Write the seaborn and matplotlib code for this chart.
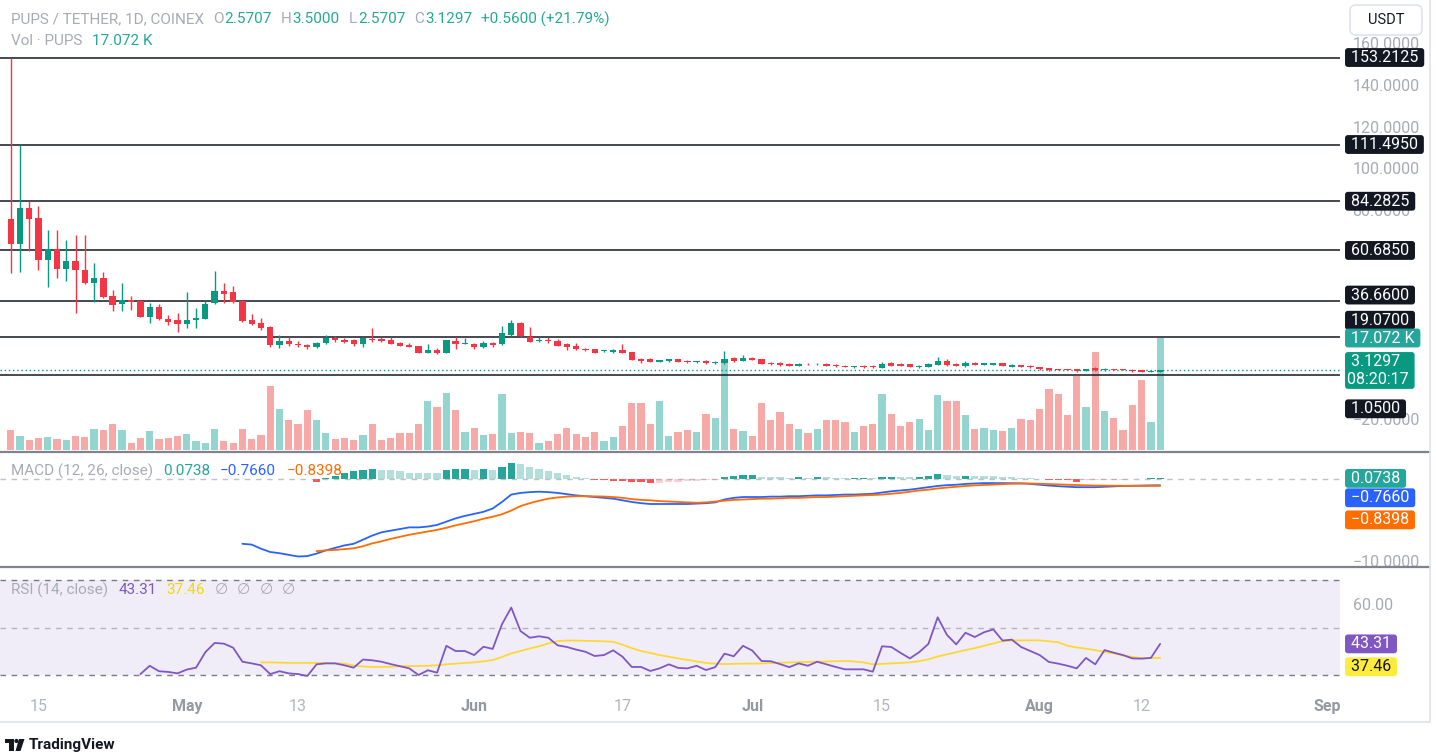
import matplotlib
matplotlib.use('Agg')
import matplotlib.pyplot as plt
import matplotlib.transforms as mtransforms
from matplotlib.patches import FancyBboxPatch, Circle, Polygon, Rectangle
from matplotlib.lines import Line2D
import seaborn as sns
import pandas as pd
import numpy as np

# ---- data (PUPS / TETHER, 1D, COINEX) ----
START_DATE = '2024-04-12'

opens = [75.8, 63.9, 80.9, 76.4, 56.1, 61.2, 51.6, 55.6, 51.2, 44.9,
         47.3, 39.0, 34.9, 36.9, 36.6, 28.9, 33.7, 27.8, 27.2, 25.6,
         27.2, 27.9, 35.3, 41.4, 40.9, 36.6, 27.3, 25.9, 24.2, 15.5,
         17.5, 15.8, 15.5, 14.3, 16.2, 18.5, 17.6, 17.7, 15.8, 18.4,
         18.2, 17.7, 16.4, 15.3, 14.8, 11.6, 12.9, 11.6, 17.3, 15.8,
         15.8, 14.5, 16.4, 15.6, 20.1, 25.8, 19.3, 17.3, 17.6, 17.2,
         15.6, 14.8, 13.6, 13.4, 12.5, 11.8, 12.9, 11.8, 8.4, 8.5,
         7.4, 7.6, 8.5, 7.7, 7.1, 7.7, 6.6, 6.6, 9.0, 7.7,
         9.3, 8.5, 6.9, 6.9, 6.3, 5.4, 6.4, 6.0, 6.3, 5.8,
         5.4, 4.6, 5.4, 5.4, 4.2, 6.5, 6.3, 6.1, 4.6, 4.8,
         5.8, 7.7, 6.4, 5.1, 6.7, 5.9, 5.9, 6.7, 4.9, 5.6,
         5.4, 4.6, 4.2, 3.8, 3.8, 3.7, 3.0, 4.4, 3.2, 3.8,
         3.8, 3.4, 3.2, 2.45, 2.5707]
highs = [153.2125, 111.495, 84.3, 82.2, 70.5, 70.5, 65.7, 68.1, 68.1, 54.5,
         50.5, 41.7, 44.9, 39.0, 36.9, 35.3, 35.0, 29.9, 30.5, 40.9,
         32.9, 36.3, 50.7, 45.2, 43.6, 36.8, 30.2, 28.4, 24.5, 20.0,
         19.0, 17.5, 16.0, 17.0, 20.3, 19.5, 18.5, 18.3, 18.8, 23.4,
         19.3, 19.3, 16.8, 16.1, 15.0, 15.8, 13.8, 17.9, 19.3, 18.5,
         16.5, 17.3, 16.9, 24.5, 27.3, 26.5, 24.0, 19.3, 19.3, 18.0,
         16.4, 16.5, 14.0, 13.6, 13.0, 13.2, 15.8, 12.0, 9.2, 9.2,
         8.3, 8.8, 8.8, 8.0, 7.9, 8.0, 7.5, 12.5, 9.6, 10.5,
         9.6, 8.7, 7.2, 7.3, 6.6, 6.5, 6.7, 6.6, 6.5, 6.0,
         5.6, 5.5, 5.7, 5.7, 7.0, 7.3, 6.6, 6.4, 5.6, 6.5,
         9.7, 8.8, 6.8, 7.7, 7.0, 6.9, 6.9, 6.9, 6.1, 5.9,
         5.6, 4.8, 4.4, 3.9, 3.9, 3.9, 4.0, 5.0, 4.2, 4.0,
         4.0, 3.6, 3.3, 2.9, 3.5]
lows = [49.7, 50.2, 60.6, 51.3, 43.3, 47.3, 46.2, 30.5, 44.5, 36.1,
        37.8, 31.8, 31.8, 32.0, 28.6, 26.0, 27.4, 24.8, 21.7, 23.7,
        23.7, 27.6, 35.0, 35.6, 35.6, 26.5, 24.8, 22.6, 14.5, 13.8,
        15.0, 14.5, 13.5, 13.8, 16.0, 17.0, 16.2, 14.9, 14.5, 16.9,
        17.0, 15.6, 14.8, 14.2, 11.4, 11.4, 10.9, 11.5, 13.6, 15.6,
        13.3, 14.0, 14.3, 15.4, 19.8, 19.3, 16.7, 16.6, 16.2, 14.9,
        13.0, 13.0, 12.6, 11.4, 12.2, 11.5, 11.4, 8.0, 6.9, 7.1,
        7.2, 7.4, 7.1, 6.9, 6.9, 6.4, 6.4, 6.4, 7.2, 7.5,
        8.0, 6.0, 5.9, 5.4, 5.1, 5.3, 5.8, 5.8, 5.3, 5.0,
        4.6, 4.5, 4.5, 4.5, 4.1, 5.2, 5.1, 4.8, 4.5, 4.7,
        5.6, 5.4, 5.1, 5.0, 5.7, 5.7, 5.8, 5.1, 4.8, 4.6,
        4.5, 3.5, 2.9, 3.2, 3.2, 2.5, 2.9, 2.8, 3.0, 3.3,
        3.2, 2.5, 2.4, 2.3, 2.5707]
closes = [63.9, 80.9, 75.8, 56.1, 61.2, 51.8, 55.6, 51.2, 44.9, 47.3,
          38.2, 34.4, 36.9, 36.0, 28.9, 33.7, 27.7, 26.5, 25.6, 27.2,
          28.3, 35.0, 41.4, 40.0, 36.1, 26.9, 25.4, 23.7, 15.5, 17.5,
          15.8, 15.5, 14.3, 16.2, 18.5, 17.6, 17.0, 15.8, 18.5, 17.9,
          17.3, 15.8, 15.0, 14.5, 11.6, 12.9, 11.6, 17.7, 15.7, 15.9,
          14.5, 16.1, 15.5, 20.9, 25.8, 19.6, 16.9, 17.6, 17.2, 15.0,
          14.5, 13.4, 12.9, 11.6, 12.7, 12.9, 11.6, 8.2, 7.7, 7.3,
          8.0, 8.5, 7.3, 7.1, 7.7, 6.6, 7.2, 8.5, 7.7, 9.3,
          8.2, 6.1, 6.1, 5.6, 5.3, 6.3, 6.0, 6.3, 5.5, 5.1,
          4.8, 5.3, 4.7, 4.7, 6.3, 5.4, 5.3, 5.0, 5.4, 6.3,
          7.7, 5.6, 5.3, 6.9, 5.9, 6.7, 6.7, 5.3, 5.9, 4.8,
          4.6, 3.7, 3.2, 3.4, 3.4, 2.7, 3.8, 3.2, 3.9, 3.5,
          3.4, 2.7, 2.6, 2.5697, 3.1297]
volumes_k = [3.1, 2.2, 1.6, 1.9, 2.0, 1.7, 1.6, 2.2, 2.0, 3.25,
             3.1, 3.9, 3.1, 1.1, 1.9, 2.9, 1.7, 1.9, 2.2, 2.5,
             1.3, 1.1, 3.25, 1.3, 1.1, 3.25, 1.7, 2.3, 9.8, 6.3,
             4.5, 4.0, 6.1, 4.5, 2.6, 1.7, 1.9, 1.6, 2.3, 4.0,
             1.6, 1.9, 2.6, 2.6, 3.9, 7.4, 6.5, 8.7, 6.1, 2.8,
             3.4, 2.3, 2.5, 8.5, 2.6, 2.8, 2.6, 1.1, 1.4, 2.5,
             3.4, 2.5, 2.0, 2.8, 1.3, 2.0, 3.6, 7.1, 7.1, 3.9,
             7.4, 2.2, 2.8, 3.1, 2.8, 5.5, 4.9, 13.4, 3.25, 2.9,
             2.2, 7.1, 4.6, 5.8, 4.0, 3.25, 2.6, 3.25, 4.6, 4.6,
             4.2, 2.8, 3.6, 3.9, 8.6, 5.5, 3.6, 4.3, 4.8, 3.1,
             8.4, 7.4, 7.4, 5.4, 3.25, 3.4, 3.1, 2.9, 3.4, 4.8,
             4.6, 6.3, 9.3, 8.5, 5.4, 11.3, 6.6, 15.0, 6.0, 4.9,
             3.1, 6.8, 10.6, 4.2, 17.072]

MACD_START = 25
macd_line = [-7.9, -8.0, -8.5, -8.9, -9.05, -9.25, -9.45, -9.4, -9.1, -8.7,
             -8.4, -8.1, -7.9, -7.4, -6.9, -6.5, -6.3, -6.1, -5.9, -5.9,
             -5.8, -5.6, -5.2, -4.8, -4.5, -4.25, -4.0, -3.6, -2.8, -1.9,
             -1.7, -1.6, -1.55, -1.6, -1.7, -1.85, -2.0, -2.1, -2.2, -2.3,
             -2.4, -2.6, -2.8, -2.95, -3.05, -3.05, -3.05, -3.05, -3.05, -3.0,
             -2.95, -2.85, -2.5, -2.3, -2.2, -2.2, -2.2, -2.15, -2.15, -2.1,
             -2.1, -2.05, -2.0, -2.0, -1.95, -1.9, -1.9, -1.85, -1.8, -1.65,
             -1.5, -1.4, -1.3, -1.15, -1.0, -0.85, -0.75, -0.7, -0.6, -0.55,
             -0.5, -0.5, -0.5, -0.52, -0.53, -0.6, -0.7, -0.8, -0.88, -0.94,
             -1.0, -1.0, -1.0, -0.95, -0.9, -0.85, -0.83, -0.8, -0.78, -0.766]
SIGNAL_START = 33
signal_line = [-8.8, -8.7, -8.65, -8.55, -8.45, -8.2, -7.85, -7.6, -7.3, -7.05,
               -6.8, -6.6, -6.4, -6.2, -5.95, -5.65, -5.4, -5.15, -4.85, -4.6,
               -4.3, -3.85, -3.3, -2.95, -2.65, -2.4, -2.25, -2.15, -2.1, -2.1,
               -2.12, -2.14, -2.2, -2.3, -2.45, -2.55, -2.6, -2.7, -2.75, -2.8,
               -2.85, -2.9, -2.85, -2.75, -2.65, -2.55, -2.5, -2.45, -2.4, -2.4,
               -2.35, -2.3, -2.3, -2.25, -2.2, -2.2, -2.15, -2.1, -2.05, -2.0,
               -1.95, -1.9, -1.8, -1.7, -1.55, -1.4, -1.3, -1.15, -1.05, -0.95,
               -0.85, -0.78, -0.73, -0.68, -0.63, -0.58, -0.55, -0.55, -0.58, -0.62,
               -0.66, -0.7, -0.74, -0.77, -0.8, -0.81, -0.82, -0.83, -0.835, -0.838,
               -0.84, -0.8398]
macd_hist = [-0.4, 0.16, 0.4, 0.7, 1.0, 1.1, 1.18, 1.1, 1.08, 1.0,
             0.77, 0.75, 0.7, 0.68, 1.1, 1.18, 1.2, 1.1, 1.18, 1.1,
             1.5, 1.9, 1.8, 1.46, 1.22, 1.0, 0.7, 0.5, 0.24, 0.16,
             -0.08, -0.16, -0.2, -0.24, -0.33, -0.4, -0.49, -0.47, -0.4, -0.33,
             -0.24, -0.2, -0.16, -0.15, 0.24, 0.33, 0.45, 0.46, 0.28, 0.27,
             0.24, 0.16, 0.24, 0.16, 0.2, 0.19, 0.16, 0.15, 0.17, 0.18,
             0.08, 0.28, 0.29, 0.24, 0.2, 0.28, 0.4, 0.57, 0.49, 0.33,
             0.4, 0.37, 0.36, 0.35, 0.24, 0.2, 0.12, 0.08, 0.04, -0.16,
             -0.17, -0.18, -0.33, -0.12, -0.11, -0.08, -0.075, -0.07, -0.04, 0.04,
             0.06, 0.0738]

RSI_START = 14
rsi_line = [30.6, 34.1, 31.8, 31.5, 30.9, 32.5, 33.3, 39.8, 43.7, 43.4,
            41.7, 35.8, 35.1, 34.3, 30.6, 31.8, 30.9, 30.6, 29.8, 34.7,
            35.1, 35.1, 34.3, 33.3, 36.7, 36.4, 35.8, 34.8, 33.9, 33.0,
            30.2, 32.2, 31.2, 42.5, 40.3, 40.3, 38.6, 42.1, 41.2, 51.6,
            58.6, 48.7, 45.9, 46.5, 45.9, 42.7, 42.0, 40.9, 40.0, 38.2,
            38.6, 40.6, 37.9, 33.6, 33.6, 31.9, 33.0, 34.7, 33.2, 33.0,
            34.1, 32.3, 33.5, 39.2, 38.1, 42.5, 40.5, 36.1, 36.0, 34.8,
            33.5, 35.1, 34.1, 35.8, 34.7, 33.6, 32.6, 32.6, 32.6, 31.6,
            42.3, 42.0, 39.5, 37.2, 39.8, 43.3, 54.5, 47.1, 43.1, 48.0,
            46.2, 48.2, 49.4, 44.7, 45.1, 42.0, 40.3, 38.6, 35.7, 35.0,
            34.1, 33.0, 37.4, 34.7, 40.7, 39.6, 38.6, 37.2, 37.1, 37.4,
            43.31]
RSI_MA_START = 27
rsi_ma = [35.5, 35.5, 35.4, 35.3, 35.3, 35.3, 35.3, 35.3, 35.1, 35.0,
          34.2, 33.8, 33.6, 33.6, 33.7, 33.9, 34.0, 34.0, 34.1, 34.3,
          34.7, 35.0, 35.3, 35.5, 36.0, 36.5, 37.8, 39.3, 40.3, 41.4,
          42.3, 43.5, 44.5, 44.7, 44.7, 44.6, 44.5, 44.4, 44.2, 43.0,
          41.5, 40.3, 39.5, 38.6, 37.9, 37.2, 36.6, 35.9, 35.3, 35.0,
          34.8, 34.9, 35.0, 35.0, 35.1, 35.2, 35.4, 35.5, 35.6, 35.7,
          35.8, 35.9, 36.0, 36.1, 35.9, 35.5, 34.7, 34.9, 35.1, 35.3,
          35.5, 36.0, 36.8, 38.0, 38.9, 39.8, 40.7, 41.5, 42.5, 43.5,
          44.4, 44.7, 44.8, 44.8, 44.8, 44.4, 44.0, 42.5, 41.8, 41.3,
          40.7, 39.9, 39.3, 38.4, 37.8, 37.3, 37.3, 37.46]

levels = [153.2125, 111.4950, 84.2825, 60.6850, 36.6600, 19.0700, 1.0500]
# only the scale ticks that stay (partly) visible next to the value boxes
price_ticks = [160, 140, 120, 100, 80, -20]
macd_ticks = [-10]
rsi_ticks = [60]
date_ticks = ['2024-04-15', '2024-05-01', '2024-05-13', '2024-06-01', '2024-06-17',
              '2024-07-01', '2024-07-15', '2024-08-01', '2024-08-12', '2024-09-01']
date_tick_labels = ['15', 'May', '13', 'Jun', '17', 'Jul', '15', 'Aug', '12', 'Sep']
countdown = '08:20:17'

# ---- style ----
sns.set_theme(style='white')
plt.rcParams['font.family'] = ['Roboto', 'DejaVu Sans']

UP, DOWN = '#089981', '#f23645'
VOL_UP, VOL_DOWN = '#95d5cf', '#f7a9a8'
GRAY = '#a8abb4'
W, H = 1436, 756
PLOT_RIGHT = 1340
LABEL_SIZE = 11.5


def pane(top, bottom):
    return [0, 1 - bottom / H, PLOT_RIGHT / W, (bottom - top) / H]


def fmt(v, d=4):
    return f'{v:.{d}f}'.replace('-', '\u2212')


n = len(closes)
df = pd.DataFrame({'date': pd.date_range(START_DATE, periods=n, freq='D'),
                   'open': opens, 'high': highs, 'low': lows, 'close': closes,
                   'volume': volumes_k})
df['i'] = np.arange(n)
df['up'] = df['close'] >= df['open']

fig = plt.figure(figsize=(W / 100, H / 100), dpi=100)
fig.patch.set_facecolor('white')

ax_vol = fig.add_axes(pane(0, 450))
ax_px = fig.add_axes(pane(0, 452))
ax_macd = fig.add_axes(pane(452, 567))
ax_rsi = fig.add_axes(pane(567, 692))

for ax in (ax_vol, ax_px, ax_macd, ax_rsi):
    ax.set_xlim(-1.15, 143.4)
    for s in ax.spines.values():
        s.set_visible(False)
    ax.set_facecolor('none')
    ax.grid(False)
    ax.set_xticks([])
    ax.tick_params(length=0)

# ---- volume (overlay in price pane) ----
ax_vol.bar(df['i'], df['volume'], width=0.78,
           color=np.where(df['up'], VOL_UP, VOL_DOWN), linewidth=0)
ax_vol.set_ylim(0, 68.6)
ax_vol.set_yticks([])

# ---- candles ----
ccol = np.where(df['up'], UP, DOWN)
ax_px.vlines(df['i'], df['low'], df['high'], colors=ccol, linewidth=1.0, zorder=3)
body_lo = df[['open', 'close']].min(axis=1)
body_h = (df['close'] - df['open']).abs().clip(lower=0.35)
ax_px.bar(df['i'], body_h, bottom=body_lo, width=0.68, color=ccol, linewidth=0, zorder=4)
for lv in levels:
    ax_px.axhline(lv, color='#131722', linewidth=1.1, zorder=2)
ax_px.axhline(closes[-1], color=UP, linewidth=1.0, linestyle=(0, (1, 2)), zorder=2)
ax_px.set_ylim(-35.97, 180.8)
ax_px.yaxis.tick_right()
ax_px.set_yticks(price_ticks)
ax_px.set_yticklabels([fmt(v) for v in price_ticks])
ax_px.tick_params(axis='y', pad=9, labelsize=LABEL_SIZE, labelcolor=GRAY)

# ---- MACD ----
hist_i = np.arange(SIGNAL_START, SIGNAL_START + len(macd_hist))
hist_cols = []
for k, v in enumerate(macd_hist):
    prev = macd_hist[k - 1] if k > 0 else v
    if v >= 0:
        hist_cols.append('#26a69a' if v > prev else '#b2dfdb')
    else:
        hist_cols.append('#ff5252' if v < prev or k == 0 else '#ffcdd2')
ax_macd.axhline(0, color='#9598a1', linewidth=1, linestyle=(0, (4, 4)), alpha=0.6)
ax_macd.bar(hist_i, macd_hist, width=0.78, color=hist_cols, linewidth=0)
sns.lineplot(x=np.arange(MACD_START, MACD_START + len(macd_line)), y=macd_line,
             ax=ax_macd, color='#2962ff', linewidth=1.3)
sns.lineplot(x=np.arange(SIGNAL_START, SIGNAL_START + len(signal_line)), y=signal_line,
             ax=ax_macd, color='#ff6d00', linewidth=1.3)
ax_macd.set_ylim(-10.73, 3.29)
ax_macd.set_xlim(-1.15, 143.4)
ax_macd.yaxis.tick_right()
ax_macd.set_yticks(macd_ticks)
ax_macd.set_yticklabels([fmt(v) for v in macd_ticks])
ax_macd.tick_params(axis='y', pad=9, labelsize=LABEL_SIZE, labelcolor=GRAY)
ax_macd.set_xticks([])

# ---- RSI ----
ax_rsi.axhspan(30, 70, color='#7e57c2', alpha=0.1, linewidth=0)
for lv, a in ((70, 1.0), (50, 0.5), (30, 1.0)):
    ax_rsi.axhline(lv, color='#787b86', linewidth=1, linestyle=(0, (4, 4)), alpha=a)
sns.lineplot(x=np.arange(RSI_MA_START, RSI_MA_START + len(rsi_ma)), y=rsi_ma,
             ax=ax_rsi, color='#fdd835', linewidth=1.3)
sns.lineplot(x=np.arange(RSI_START, RSI_START + len(rsi_line)), y=rsi_line,
             ax=ax_rsi, color='#7e57c2', linewidth=1.3)
ax_rsi.set_ylim(23.05, 75.68)
ax_rsi.set_xlim(-1.15, 143.4)
ax_rsi.yaxis.tick_right()
ax_rsi.set_yticks(rsi_ticks)
ax_rsi.set_yticklabels([f'{v:.2f}' for v in rsi_ticks])
ax_rsi.tick_params(axis='y', pad=9, labelsize=LABEL_SIZE, labelcolor=GRAY)
tick_pos = [(pd.Timestamp(d) - pd.Timestamp(START_DATE)).days for d in date_ticks]
ax_rsi.set_xticks(tick_pos)
ax_rsi.set_xticklabels(date_tick_labels)
ax_rsi.tick_params(axis='x', pad=5, labelsize=11.5)
for lab in ax_rsi.get_xticklabels():
    if lab.get_text().isalpha():
        lab.set_color('#9598a1')
        lab.set_fontweight('bold')
    else:
        lab.set_color('#b2b5be')


# ---- right scale value boxes ----
def side_label(ax, y, text, fc, tc='white', dy_px=0.0, ytrans=None, size=LABEL_SIZE):
    trans = mtransforms.blended_transform_factory(ax.transAxes, (ytrans or ax).transData)
    ax.annotate(f' {text} ', xy=(1, y), xycoords=trans, xytext=(5.0, -dy_px * 0.72),
                textcoords='offset points', ha='left', va='center', fontsize=size,
                color=tc, annotation_clip=False, zorder=20, linespacing=1.25,
                bbox=dict(boxstyle='round,pad=0.12,rounding_size=0.18', fc=fc, ec='none'))


level_shift = {19.07: -17, 36.66: -5.5, 1.05: 34}
for lv in levels:
    side_label(ax_px, lv, fmt(lv), '#131722', dy_px=level_shift.get(round(lv, 2), 0))
side_label(ax_px, volumes_k[-1], f'{volumes_k[-1]:.3f} K', '#26a69a', ytrans=ax_vol)
side_label(ax_px, closes[-1], f'{fmt(closes[-1])}\n{countdown}', UP)

side_label(ax_macd, macd_hist[-1], fmt(macd_hist[-1]), '#26a69a')
side_label(ax_macd, macd_line[-1], fmt(macd_line[-1]), '#2962ff', dy_px=12.5)
side_label(ax_macd, signal_line[-1], fmt(signal_line[-1]), '#ff6d00', dy_px=34)

side_label(ax_rsi, rsi_line[-1], f'{rsi_line[-1]:.2f}', '#7e57c2')
side_label(ax_rsi, rsi_ma[-1], f'{rsi_ma[-1]:.2f}', '#ffeb3b', tc='#131722', dy_px=9)

# ---- legends / headers ----
renderer = fig.canvas.get_renderer()


def chain(x_px, y_px, parts, size=11):
    x = x_px
    for text, color, gap in parts:
        t = fig.text(x / W, 1 - y_px / H, text, color=color, fontsize=size,
                     ha='left', va='center')
        x += t.get_window_extent(renderer).width + gap


VAL = '#22ab94'
chg = closes[-1] - closes[-2]
pct = chg / closes[-2] * 100
chain(11, 19, [('PUPS / TETHER, 1D, COINEX', GRAY, 9),
               ('O', GRAY, 1), (fmt(opens[-1]), VAL, 9),
               ('H', GRAY, 1), (fmt(highs[-1]), VAL, 9),
               ('L', GRAY, 1), (fmt(lows[-1]), VAL, 9),
               ('C', GRAY, 1), (fmt(closes[-1]), VAL, 9),
               (f'+{chg:.4f} (+{pct:.2f}%)', VAL, 0)])
chain(11, 41, [('Vol \u00b7 PUPS', GRAY, 10), (f'{volumes_k[-1]:.3f} K', '#26a69a', 0)])
chain(11, 471, [('MACD (12, 26, close)', GRAY, 10),
                (fmt(macd_hist[-1]), '#26a69a', 10),
                (fmt(macd_line[-1]), '#2962ff', 10),
                (fmt(signal_line[-1]), '#ff6d00', 0)])
chain(11, 590, [('RSI (14, close)', GRAY, 10),
                (f'{rsi_line[-1]:.2f}', '#7e57c2', 10),
                (f'{rsi_ma[-1]:.2f}', '#f5d800', 10),
                ('\u2205', GRAY, 9), ('\u2205', GRAY, 9), ('\u2205', GRAY, 9), ('\u2205', GRAY, 0)])

# ---- frame: pane separators, borders, currency button, logo ----
for y in (452, 567):
    fig.add_artist(Line2D([0, 1430 / W], [1 - y / H] * 2, color='#80838d', linewidth=1.6))
fig.add_artist(Line2D([1430 / W] * 2, [1 - 722 / H, 1], color='#e0e3eb', linewidth=1.2))
fig.add_artist(Line2D([0, 1430 / W], [1 - 722 / H] * 2, color='#e0e3eb', linewidth=1.2))

ident = mtransforms.IdentityTransform()
fig.add_artist(FancyBboxPatch((1350, H - 35), 72, 30, boxstyle='round,pad=0,rounding_size=6',
                              fc='white', ec='#e0e3eb', lw=1.2, transform=ident))
fig.text(1386 / W, 1 - 20 / H, 'USDT', ha='center', va='center', fontsize=10.5, color='#131722')

logo = '#131722'
fig.add_artist(Rectangle((5, H - 743), 9, 4, fc=logo, ec='none', transform=ident))
fig.add_artist(Rectangle((9, H - 751), 4.5, 12, fc=logo, ec='none', transform=ident))
fig.add_artist(Circle((16.5, H - 741), 2.1, fc=logo, ec='none', transform=ident))
fig.add_artist(Polygon([(19, H - 739), (24.5, H - 739), (20.5, H - 751), (15.5, H - 751)],
                       closed=True, fc=logo, ec='none', transform=ident))
fig.text(29 / W, 1 - 745 / H, 'TradingView', ha='left', va='center', fontsize=11,
         fontweight='semibold', color=logo)

fig.savefig('out.png', dpi=100, facecolor='white')
